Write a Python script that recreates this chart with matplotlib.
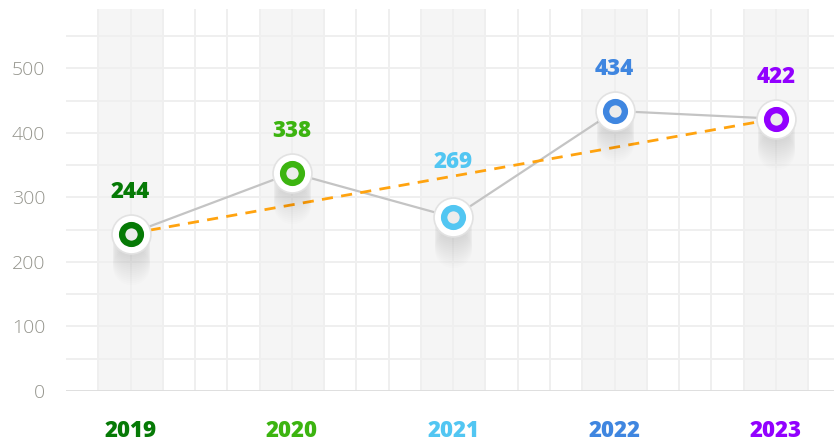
import matplotlib.pyplot as plt
import matplotlib.transforms as mtransforms
import numpy as np

# chart data
years = ["2019", "2020", "2021", "2022", "2023"]
values = [244, 338, 269, 434, 422]
colors = ["#067a06", "#3cb410", "#52c6f2", "#3f86e0", "#9200ff"]
label_lift = [30, 30, 40, 30, 30]

label_font = ["Open Sans", "DejaVu Sans"]


def main():
    fig = plt.figure(figsize=(8.34, 4.44), dpi=100)
    ax = fig.add_axes([66 / 834, 53 / 444, 1 - 66 / 834, 382 / 444])
    x = np.arange(len(years))

    # background grid and column bands
    for xi in x:
        ax.axvspan(xi - 0.2, xi + 0.2, color="#f5f5f5", zorder=0, lw=0)
    for gx in np.arange(-0.2, 4.4, 0.2):
        ax.axvline(gx, color="#efefef", lw=1.4, zorder=0.5)
    for gy in np.arange(50, 600, 50):
        ax.axhline(gy, color="#efefef", lw=1.4, zorder=0.5)
    ax.axhline(0, color="#dcdcdc", lw=2, zorder=1)

    # line through the points and first-to-last trend
    ax.plot(x, values, color="#c4c4c4", lw=1.6, zorder=2)
    ax.plot([x[0], x[-1]], [values[0], values[-1]], color="#ffa30f",
            lw=2, ls=(0, (4, 3)), zorder=2.5)

    # soft shadow under markers
    for dy in range(2, 34, 2):
        off = mtransforms.ScaledTranslation(0, -dy / 100, fig.dpi_scale_trans)
        ax.plot(x, values, ls="none", marker="o", ms=27, mew=0,
                mfc="#000000", alpha=0.009, transform=ax.transData + off,
                zorder=3)

    # markers: white disc with a coloured ring
    ax.plot(x, values, ls="none", marker="o", ms=28, mfc="#ffffff",
            mec="#e2e2e2", mew=1.2, zorder=4)
    for xi, v, c, lift in zip(x, values, colors, label_lift):
        ax.plot(xi, v, marker="o", ms=13.5, mfc="#ececec", mec=c, mew=4.6,
                zorder=5)
        ax.annotate(str(v), (xi, v), xytext=(0, lift), textcoords="offset points",
                    ha="center", va="center", color=c, fontsize=16,
                    fontweight=800, family=label_font, zorder=6)

    ax.set_xlim(-0.4, 4.36)
    ax.set_ylim(0, 592)
    ax.set_yticks(range(0, 501, 100))
    ax.tick_params(axis="y", length=0, pad=15, labelsize=14, labelcolor="#94948c")
    for t in ax.get_yticklabels():
        t.set_family(["Open Sans", "DejaVu Sans"])
        t.set_fontweight("light")
    ax.set_xticks(x)
    ax.set_xticklabels(years)
    ax.tick_params(axis="x", length=0, pad=20)
    for t, c in zip(ax.get_xticklabels(), colors):
        t.set_color(c)
        t.set_fontsize(16)
        t.set_fontweight(800)
        t.set_family(label_font)

    for s in ax.spines.values():
        s.set_visible(False)

    fig.savefig("out.png", dpi=100)


if __name__ == "__main__":
    main()
